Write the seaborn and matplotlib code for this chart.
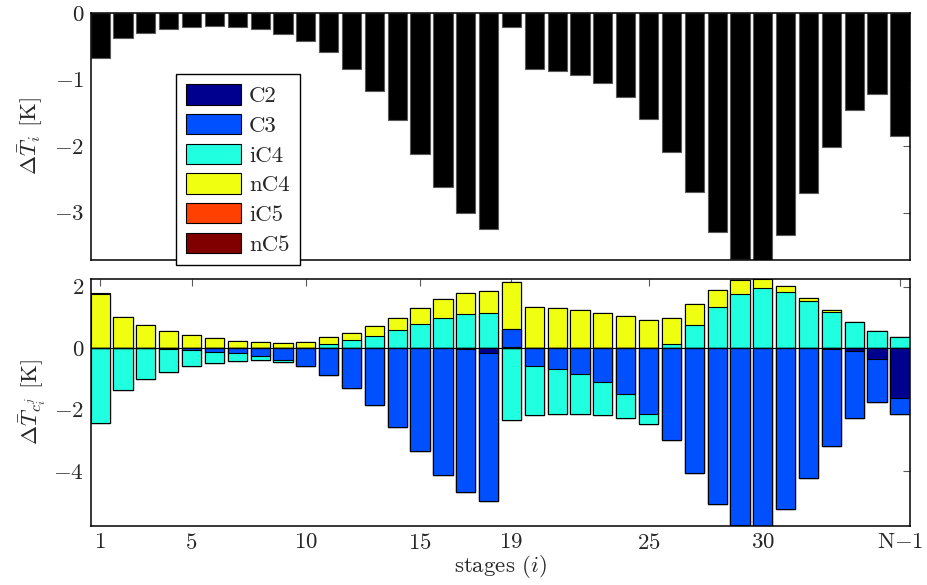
import numpy as np
import pandas as pd
import matplotlib
matplotlib.use("Agg")
import matplotlib.pyplot as plt
from matplotlib.patches import Patch
import seaborn as sns

# ---------------- data ----------------
stages = list(range(1, 37))
xtick_pos = [1, 5, 10, 15, 19, 25, 30, 36]
xtick_labels = [r"$1$", r"$5$", r"$10$", r"$15$", r"$19$", r"$25$", r"$30$", r"$\mathrm{N}{-}1$"]

dT = [-0.675, -0.375, -0.295, -0.24, -0.21, -0.19, -0.205, -0.24, -0.31, -0.42,
      -0.59, -0.84, -1.175, -1.61, -2.115, -2.61, -3.0, -3.24, -0.21, -0.835,
      -0.865, -0.93, -1.05, -1.26, -1.595, -2.085, -2.695, -3.29, -3.69, -3.71,
      -3.335, -2.7, -2.015, -1.46, -1.215, -1.845]

components = ["C2", "C3", "iC4", "nC4", "iC5", "nC5"]
C2 = [0, 0, 0, 0, 0, 0, 0, 0, 0, 0,
      0, 0, 0, 0, 0, 0, -0.04, -0.17, 0.03, 0,
      0, 0, 0, 0, 0, 0, 0, 0, 0, 0,
      0, 0, -0.03, -0.10, -0.37, -1.62]
C3 = [0, 0, 0, -0.03, -0.07, -0.11, -0.17, -0.25, -0.38, -0.59,
      -0.88, -1.30, -1.85, -2.57, -3.35, -4.12, -4.64, -4.82, 0.58, -0.58,
      -0.67, -0.84, -1.10, -1.50, -2.13, -2.99, -4.05, -5.08, -5.75, -5.78,
      -5.23, -4.24, -3.15, -2.18, -1.38, -0.53]
iC4 = [-2.43, -1.36, -1.02, -0.75, -0.51, -0.37, -0.25, -0.15, -0.06, 0.02,
       0.12, 0.25, 0.39, 0.58, 0.77, 0.97, 1.10, 1.13, -2.34, -1.59,
       -1.47, -1.29, -1.07, -0.76, -0.34, 0.15, 0.75, 1.34, 1.77, 1.95,
       1.82, 1.52, 1.17, 0.84, 0.55, 0.36]
nC4 = [1.75, 1.01, 0.75, 0.565, 0.42, 0.33, 0.24, 0.21, 0.17, 0.19,
       0.23, 0.25, 0.33, 0.41, 0.53, 0.62, 0.69, 0.73, 1.53, 1.35,
       1.30, 1.25, 1.14, 1.04, 0.92, 0.83, 0.70, 0.56, 0.45, 0.29,
       0.21, 0.12, 0.07, 0.02, 0, 0]
iC5 = [0] * 36
nC5 = [0.05, 0.01, 0, 0, 0, 0, 0, 0, 0, 0,
       0, 0, 0, 0, 0, 0, 0, 0, 0, 0,
       0, 0, 0, 0, 0, 0, 0, 0, 0, 0,
       0, 0, 0, 0, 0, 0]
colors = ["#00008F", "#0050FF", "#20FFE0", "#F0FF10", "#FF4000", "#800000"]

# ---------------- style ----------------
sns.set_style("white")
plt.rcParams["font.family"] = ["cmr10", "DejaVu Serif"]
plt.rcParams["mathtext.fontset"] = "cm"
plt.rcParams["axes.unicode_minus"] = False
plt.rcParams["axes.formatter.use_mathtext"] = True
FS = 16.5

fig = plt.figure(figsize=(9.28, 5.85), dpi=100)
ax1 = fig.add_axes([91 / 928, 1 - 260 / 585, (910 - 91) / 928, (260 - 13) / 585])
ax2 = fig.add_axes([91 / 928, 1 - 526 / 585, (910 - 91) / 928, (526 - 279) / 585])

W = 0.84

# top panel
df_top = pd.DataFrame({"stage": stages, "dT": dT})
sns.barplot(data=df_top, x="stage", y="dT", native_scale=True, width=W,
            color="black", edgecolor="0.35", linewidth=0.8, errorbar=None,
            saturation=1, ax=ax1)
ax1.set_ylim(-3.71, 0)
ax1.set_yticks([0, -1, -2, -3])
ax1.set_yticklabels([r"$0$", r"$-1$", r"$-2$", r"$-3$"])
ax1.set_ylabel(r"$\Delta\bar{T}_i$ [K]", fontsize=FS, labelpad=6)
ax1.set_xlabel("")
ax1.set_xticks(xtick_pos)
ax1.set_xticklabels([])

# bottom panel: stacked positive and negative parts
vals = np.array([C2, C3, iC4, nC4, iC5, nC5], dtype=float)
pos = np.clip(vals, 0, None).cumsum(axis=0)
neg = np.clip(vals, None, 0).cumsum(axis=0)
for k in range(len(components) - 1, -1, -1):
    for cum in (pos, neg):
        dfk = pd.DataFrame({"stage": stages, "v": cum[k]})
        sns.barplot(data=dfk, x="stage", y="v", native_scale=True, width=W,
                    color=colors[k], edgecolor="black", linewidth=0.8,
                    errorbar=None, saturation=1, ax=ax2)
ax2.axhline(0, color="black", lw=0.8, zorder=5)
ax2.set_ylim(-5.79, 2.25)
ax2.set_yticks([2, 0, -2, -4])
ax2.set_yticklabels([r"$2$", r"$0$", r"$-2$", r"$-4$"])
ax2.set_ylabel(r"$\Delta\bar{T}_{c_i^j}$ [K]", fontsize=FS, labelpad=4)
ax2.set_xticks(xtick_pos)
ax2.set_xticklabels(xtick_labels)
ax2.set_xlabel(r"stages ($i$)", fontsize=FS, labelpad=0)

for ax in (ax1, ax2):
    ax.set_xlim(0.6, 36.44)
    ax.tick_params(direction="in", top=True, right=True, length=5, width=0.8,
                   color="0.35", labelsize=FS, pad=5)
    for s in ax.spines.values():
        s.set_color("black")
        s.set_linewidth(1.1)

handles = [Patch(facecolor=c, edgecolor="black", linewidth=0.8) for c in colors]
leg = fig.legend(handles, components, loc="upper left",
                 bbox_to_anchor=(175.7 / 928, 1 - 74 / 585),
                 bbox_transform=fig.transFigure, frameon=True, fancybox=False,
                 edgecolor="black", framealpha=1, fontsize=FS,
                 handlelength=2.4, handleheight=1.0, handletextpad=0.35,
                 labelspacing=0.33, borderpad=0.45, borderaxespad=0)
leg.get_frame().set_linewidth(1.0)

fig.savefig("out.png", dpi=100)
